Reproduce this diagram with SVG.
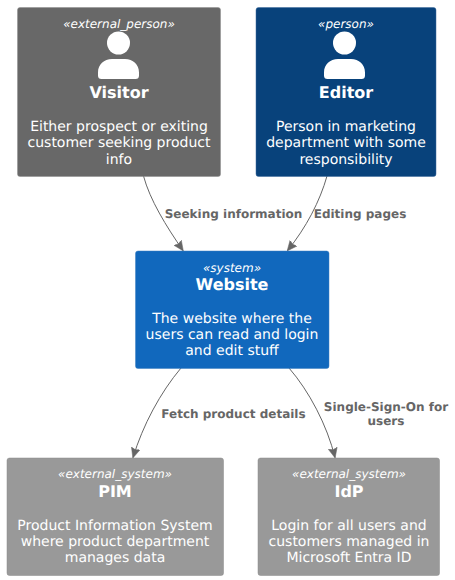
<svg xmlns="http://www.w3.org/2000/svg" width="455" height="580" viewBox="0 0 455 580">
<style>
text{font-family:"DejaVu Sans",sans-serif;text-anchor:middle;text-rendering:geometricPrecision}
.st{font-size:12px;font-style:italic;fill:#fff}
.nm{font-size:16px;font-weight:bold;fill:#fff}
.ds{font-size:14px;fill:#fff}
.lb{font-size:12px;font-weight:bold;fill:#666}
.cn{fill:none;stroke:#666;stroke-width:1}
.ic{fill:#fff}
</style>
<defs>
<marker id="ah" viewBox="0 0 10 10" markerUnits="userSpaceOnUse" markerWidth="10" markerHeight="10" refX="9.500" refY="5" orient="auto"><path d="M0 .5L10 5L0 9.500L1.500 5Z" fill="#666" stroke="#666" stroke-width=".5"/></marker>
<g id="person"><circle cx="0" cy="43" r="11.500" class="ic"/><path d="M-20.500 75.500v-3c0-8 6-13.500 14-13.500h13c8 0 14 5.500 14 13.500v3a3.500 3.500 0 0 1-3.500 3.500h-34a3.500 3.500 0 0 1-3.500-3.500Z" class="ic"/></g>
</defs>
<g id="connectors">
<path class="cn" marker-end="url(#ah)" d="M143.500 176C150 200 166 226 183 250.500"/>
<path class="cn" marker-end="url(#ah)" d="M327 176C320 201 306 228 287.500 250.500"/>
<path class="cn" marker-end="url(#ah)" d="M181 368C160 393 143 425 133 457.500"/>
<path class="cn" marker-end="url(#ah)" d="M289 368C309 391 327 425 335 457.500"/>
<text class="lb" x="233.500" y="218">Seeking information</text>
<text class="lb" x="360" y="218">Editing pages</text>
<text class="lb" x="233.500" y="418">Fetch product details</text>
<text class="lb" x="386" y="411">Single-Sign-On for</text>
<text class="lb" x="386" y="425">users</text>
</g>
<g id="visitor">
<rect x="17.500" y="7.500" width="203" height="169" rx="2.500" fill="#686868" stroke="#8c8c8c" stroke-width=".5"/>
<text class="st" x="119" y="28">«external_person»</text>
<use href="#person" x="118.500"/>
<text class="nm" x="119" y="98">Visitor</text>
<text class="ds" x="119" y="131">Either prospect or exiting</text>
<text class="ds" x="119" y="147">customer seeking product</text>
<text class="ds" x="119" y="164">info</text>
</g>
<g id="editor">
<rect x="256" y="7.500" width="180" height="169" rx="2.500" fill="#08427b" stroke="#3c6a9c" stroke-width=".5"/>
<text class="st" x="346" y="28">«person»</text>
<use href="#person" x="344.500"/>
<text class="nm" x="346" y="98">Editor</text>
<text class="ds" x="346" y="131">Person in marketing</text>
<text class="ds" x="346" y="147">department with some</text>
<text class="ds" x="346" y="164">responsibility</text>
</g>
<g id="website">
<rect x="135.500" y="251" width="193.500" height="117.500" rx="2.500" fill="#1168bd" stroke="#3c7fc0" stroke-width=".5"/>
<text class="st" x="232" y="272">«system»</text>
<text class="nm" x="232" y="290">Website</text>
<text class="ds" x="232" y="323">The website where the</text>
<text class="ds" x="232" y="339">users can read and login</text>
<text class="ds" x="232" y="355">and edit stuff</text>
</g>
<g id="pim">
<rect x="7" y="458" width="216.500" height="117.500" rx="2.500" fill="#999" stroke="#8a8a8a" stroke-width=".5"/>
<text class="st" x="115" y="478">«external_system»</text>
<text class="nm" x="115" y="497">PIM</text>
<text class="ds" x="115" y="530">Product Information System</text>
<text class="ds" x="115" y="546">where product department</text>
<text class="ds" x="115" y="562">manages data</text>
</g>
<g id="idp">
<rect x="258" y="458" width="181.500" height="117.500" rx="2.500" fill="#999" stroke="#8a8a8a" stroke-width=".5"/>
<text class="st" x="349" y="478">«external_system»</text>
<text class="nm" x="349" y="497">IdP</text>
<text class="ds" x="349" y="530">Login for all users and</text>
<text class="ds" x="349" y="546">customers managed in</text>
<text class="ds" x="349" y="562">Microsoft Entra ID</text>
</g>
</svg>
